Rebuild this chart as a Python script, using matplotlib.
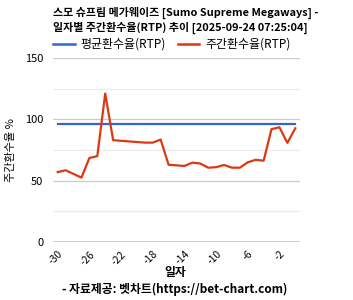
import matplotlib
matplotlib.use("Agg")
import matplotlib.pyplot as plt
from matplotlib.lines import Line2D

plt.rcParams['font.family'] = ['Noto Sans CJK KR', 'DejaVu Sans']

# data
days = list(range(-30, 1))
weekly_rtp = [57, 58.5, 55.5, 52.5, 68.5, 70, 121, 83, 82.5, 82, 81.5, 81, 81, 83.5,
              63, 62.5, 62, 64.7, 64, 60.6, 61, 62.8, 60.6, 60.6, 65, 67, 66.3,
              92, 93.5, 80.8, 92.7]
avg_rtp = 96.5
x_ticks = [-30, -26, -22, -18, -14, -10, -6, -2]
y_ticks = [0, 50, 100, 150]

title = "스모 슈프림 메가웨이즈 [Sumo Supreme Megaways] -\n일자별 주간환수율(RTP) 추이 [2025-09-24 07:25:04]"
blue = '#3366cc'
red = '#dc3912'

fig = plt.figure(figsize=(3.53, 3.0), dpi=100)
ax = fig.add_axes([0.150, 0.193, 0.700, 0.614])

ax.plot(days, [avg_rtp] * len(days), color=blue, lw=1.6, zorder=3)
ax.plot(days, weekly_rtp, color=red, lw=1.6, zorder=4)

ax.set_xlim(-30.6, 0.6)
ax.set_ylim(0, 150)
ax.set_yticks(y_ticks)
ax.set_yticks([25, 75, 125], minor=True)
ax.set_xticks(x_ticks)
ax.set_xticklabels([str(t) for t in x_ticks], rotation=45, ha='right',
                   rotation_mode='anchor', fontsize=7.5)
ax.tick_params(axis='y', length=0, labelsize=8, pad=7, which='both')
ax.tick_params(axis='x', length=0, pad=5)
ax.grid(True, axis='y', which='major', color='#cccccc', lw=0.9)
ax.grid(True, axis='y', which='minor', color='#ebebeb', lw=0.9)
ax.axhline(0, color='#333333', lw=1.0, zorder=5)
for s in ax.spines.values():
    s.set_visible(False)

ax.set_ylabel("주간환수율 %", fontsize=8)
ax.yaxis.set_label_coords(-0.15, 0.5)

fig.text(0.150, 0.978, title, fontsize=7.9, fontweight='bold', va='top', ha='left',
         linespacing=1.3)

handles = [Line2D([], [], color=blue, lw=1.8), Line2D([], [], color=red, lw=1.8)]
fig.legend(handles, ["평균환수율(RTP)", "주간환수율(RTP)"], loc='center left',
           bbox_to_anchor=(0.12, 0.852), ncol=2, frameon=False,
           prop={'size': 8.6, 'weight': 'medium'},
           handlelength=1.8, handletextpad=0.5, columnspacing=1.0)

fig.text(0.496, 0.093, "일자", fontsize=8.5, fontweight='bold', ha='center', va='center')
fig.text(0.496, 0.035, "- 자료제공: 벳차트(https://bet-chart.com)", fontsize=8.5,
         fontweight='bold', ha='center', va='center')

fig.savefig("out.png", dpi=100)
